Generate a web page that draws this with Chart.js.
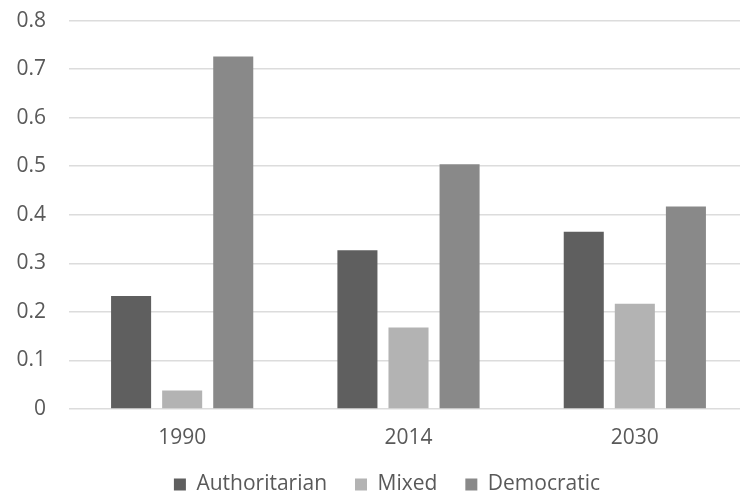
<!DOCTYPE html>
<html>
<head>
<meta charset="utf-8">
<script src="https://cdn.jsdelivr.net/npm/chart.js@4/dist/chart.umd.min.js"></script>
<style>
  html, body { margin: 0; padding: 0; background: #fff; overflow: hidden; }
  #wrap { position: absolute; left: 0; top: -15px; width: 776px; height: 520px; }
</style>
</head>
<body>
<div id="wrap"><canvas id="c"></canvas></div>
<script>
const years = ['1990', '2014', '2030'];
const authoritarian = [0.233, 0.327, 0.365];
const mixed = [0.038, 0.168, 0.217];
const democratic = [0.726, 0.504, 0.417];
const yTicks = [0, 0.1, 0.2, 0.3, 0.4, 0.5, 0.6, 0.7, 0.8];

const FONT = '"Open Sans", sans-serif';
const TEXT = '#595959';

// nudge the legend row a little to the right of the canvas centre
const legendShift = {
  id: 'legendShift',
  afterLayout(chart) {
    if (chart.legend) {
      chart.legend.left += 13;
      chart.legend.right += 13;
    }
  }
};

new Chart(document.getElementById('c'), {
  type: 'bar',
  data: {
    labels: years,
    datasets: [
      { label: 'Authoritarian', data: authoritarian, backgroundColor: '#5f5f5f' },
      { label: 'Mixed', data: mixed, backgroundColor: '#b3b3b3' },
      { label: 'Democratic', data: democratic, backgroundColor: '#898989' }
    ]
  },
  options: {
    responsive: true,
    maintainAspectRatio: false,
    animation: false,
    layout: { padding: { top: 0, left: 0, right: 28, bottom: 0 } },
    datasets: {
      bar: { categoryPercentage: 0.677, barPercentage: 0.784, borderWidth: 0 }
    },
    scales: {
      x: {
        grid: { display: false, drawTicks: false },
        border: { display: false },
        ticks: { color: TEXT, font: { family: FONT, size: 21 }, padding: 16 },
        afterFit: (axis) => { axis.height = 37; }
      },
      y: {
        min: 0,
        max: 0.8,
        afterBuildTicks: (axis) => { axis.ticks = yTicks.map(v => ({ value: v })); },
        afterFit: (axis) => { axis.width = 69; },
        grid: { color: '#dcdcdc', lineWidth: 1.5, drawTicks: false },
        border: { display: false },
        ticks: {
          color: TEXT,
          font: { family: FONT, size: 21 },
          padding: 23,
          callback: (v) => String(+v.toFixed(1))
        }
      }
    },
    plugins: {
      legend: {
        position: 'bottom',
        labels: {
          color: TEXT,
          font: { family: FONT, size: 21 },
          boxWidth: 12,
          boxHeight: 12,
          padding: 28
        }
      },
      tooltip: { enabled: false }
    }
  },
  plugins: [legendShift]
});
</script>
</body>
</html>
